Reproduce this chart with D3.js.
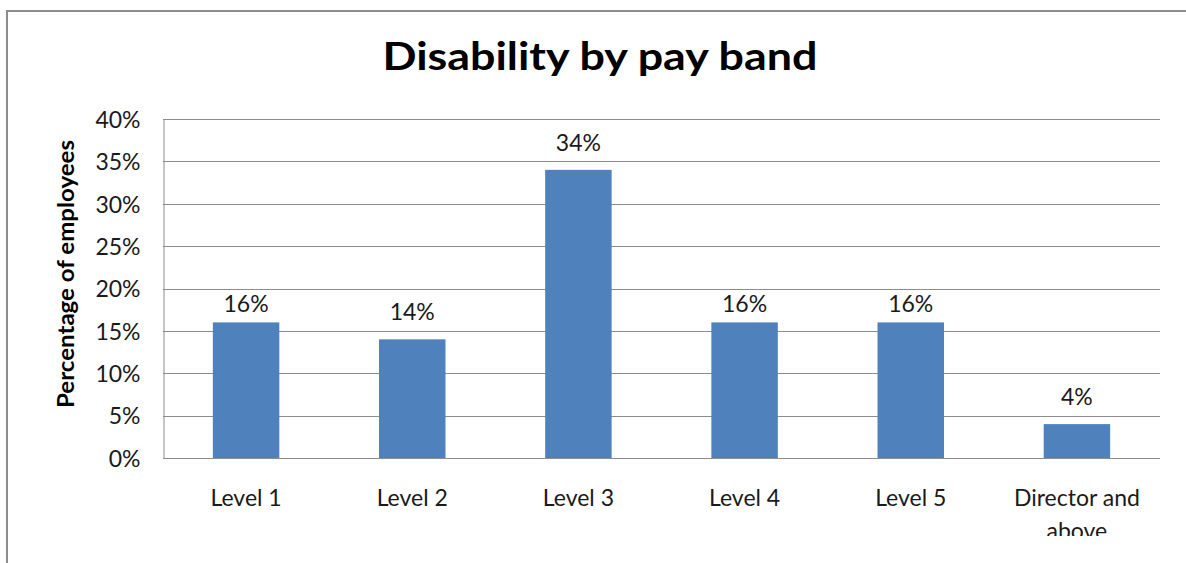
<!DOCTYPE html>
<html>
<head>
<meta charset="utf-8">
<script src="https://cdn.jsdelivr.net/npm/d3@7"></script>
<style>
  html, body { margin: 0; padding: 0; background: #ffffff; }
  svg { display: block; font-family: Lato, "Open Sans", sans-serif; }
</style>
</head>
<body>
<svg id="chart" width="1186" height="563"></svg>
<script>
// Share of disabled employees in each pay band
const categories = ["Level 1", "Level 2", "Level 3", "Level 4", "Level 5", "Director and above"];
const values = [0.16, 0.14, 0.34, 0.16, 0.16, 0.04];
const yTicks = [0, 0.05, 0.10, 0.15, 0.20, 0.25, 0.30, 0.35, 0.40];
const titleText = "Disability by pay band";
const yTitleText = "Percentage of employees";

const svg = d3.select("#chart");
const W = 1186, H = 563;
const plot = { left: 163, right: 1160, top: 119, bottom: 458 };
const pct = d3.format(".0%");
const labelSize = 23;

// Outer chart frame (extends past the visible area on the right and bottom)
svg.append("path")
  .attr("d", `M7,${H + 10} V11 H${W + 10}`)
  .attr("fill", "none")
  .attr("stroke", "#8c8c8c")
  .attr("stroke-width", 2);

// Title
svg.append("text")
  .attr("x", 600).attr("y", 70)
  .attr("text-anchor", "middle")
  .attr("font-size", 39)
  .attr("font-weight", "bold")
  .attr("fill", "#000")
  .attr("textLength", 435)
  .attr("lengthAdjust", "spacingAndGlyphs")
  .text(titleText);

const x = d3.scaleBand()
  .domain(categories)
  .range([plot.left, plot.right])
  .paddingInner(0.6)
  .paddingOuter(0.3);

const y = d3.scaleLinear()
  .domain([0, 0.40])
  .range([plot.bottom, plot.top]);

const gridY = d => Math.round(y(d)) + 0.5;

// Horizontal gridlines
svg.append("g")
  .selectAll("line")
  .data(yTicks.filter(t => t > 0))
  .join("line")
  .attr("x1", plot.left).attr("x2", plot.right)
  .attr("y1", gridY)
  .attr("y2", gridY)
  .attr("stroke", "#8c8c8c")
  .attr("stroke-width", 1);

// Y axis
const yAxis = svg.append("g")
  .attr("transform", `translate(${plot.left + 0.5},0)`)
  .call(d3.axisLeft(y).tickValues(yTicks).tickFormat(pct).tickSize(0).tickPadding(23));
yAxis.select(".domain").attr("stroke", "#8c8c8c");
yAxis.selectAll("text")
  .attr("font-family", "Lato, 'Open Sans', sans-serif")
  .attr("font-size", labelSize)
  .attr("fill", "#1a1a1a")
  .attr("dy", "0.36em");

// Bars
const rows = categories.map((c, i) => ({ c, v: values[i] }));
svg.append("g")
  .selectAll("rect")
  .data(rows)
  .join("rect")
  .attr("x", d => x(d.c))
  .attr("width", x.bandwidth())
  .attr("y", d => y(d.v))
  .attr("height", d => y(0) - y(d.v))
  .attr("fill", "#4f81bd");

// X axis line
svg.append("line")
  .attr("x1", plot.left).attr("x2", plot.right)
  .attr("y1", plot.bottom + 0.5).attr("y2", plot.bottom + 0.5)
  .attr("stroke", "#8c8c8c");

// Category labels, wrapped to two lines where needed; clipped at the chart's lower edge
svg.append("clipPath").attr("id", "xclip")
  .append("rect").attr("x", 0).attr("y", 0).attr("width", W).attr("height", 536);

const labelG = svg.append("g").attr("clip-path", "url(#xclip)");
categories.forEach(c => {
  const cx = x(c) + x.bandwidth() / 2;
  const lines = c === "Director and above" ? ["Director and", "above"] : [c];
  const t = labelG.append("text")
    .attr("x", cx)
    .attr("y", 506)
    .attr("text-anchor", "middle")
    .attr("font-size", labelSize)
    .attr("fill", "#1a1a1a");
  lines.forEach((ln, i) => {
    t.append("tspan")
      .attr("x", cx)
      .attr("dy", i === 0 ? 0 : 33)
      .text(ln);
  });
});

// Value labels above bars; a label that would sit on a gridline drops closer to its bar
function labelBaseline(v) {
  const top = y(v);
  const base = top - 19;
  const textTop = base - 16;
  const hit = yTicks.some(t => t > 0 && gridY(t) >= textTop - 2 && gridY(t) <= base + 2);
  return hit ? top - 10 : base;
}
svg.append("g")
  .selectAll("text")
  .data(rows)
  .join("text")
  .attr("x", d => x(d.c) + x.bandwidth() / 2)
  .attr("y", d => labelBaseline(d.v))
  .attr("text-anchor", "middle")
  .attr("font-size", labelSize)
  .attr("fill", "#1a1a1a")
  .text(d => pct(d.v));

// Y axis title
svg.append("text")
  .attr("transform", `translate(74,274) rotate(-90)`)
  .attr("text-anchor", "middle")
  .attr("font-size", 23)
  .attr("font-weight", "bold")
  .attr("fill", "#000")
  .attr("textLength", 268)
  .attr("lengthAdjust", "spacingAndGlyphs")
  .text(yTitleText);
</script>
</body>
</html>
